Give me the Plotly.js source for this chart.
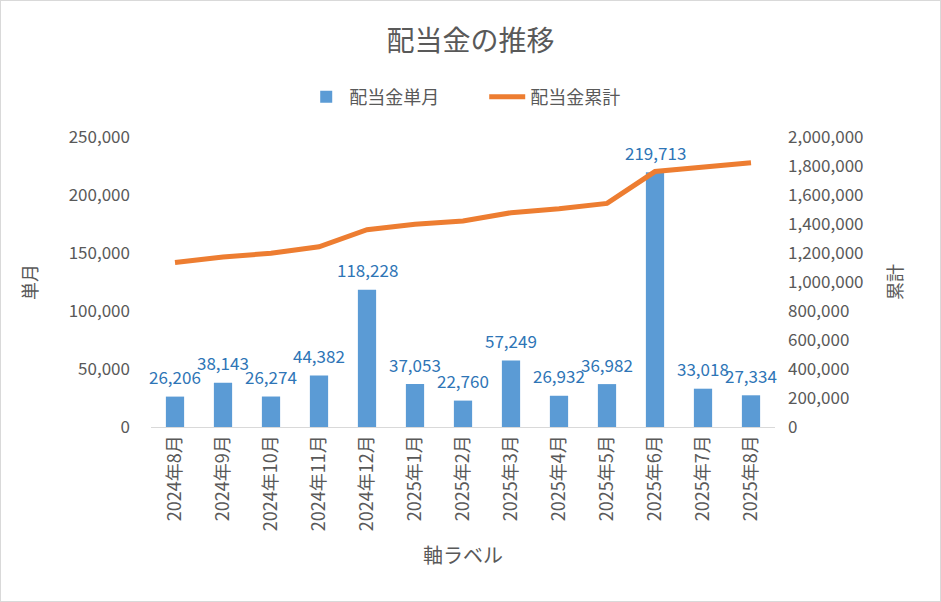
<!DOCTYPE html>
<html>
<head>
<meta charset="utf-8">
<script src="https://cdn.plot.ly/plotly-3.0.1.min.js"></script>
<style>
html,body{margin:0;padding:0;background:#fff;}
#wrap{position:relative;width:941px;height:602px;}
#chart{width:941px;height:602px;}
#frame{position:absolute;left:0;top:0;width:939px;height:600px;border:1px solid #D9D9D9;pointer-events:none;}
</style>
</head>
<body>
<div id="wrap"><div id="chart"></div><div id="frame"></div></div>
<script>
var categories = ["2024年8月","2024年9月","2024年10月","2024年11月","2024年12月","2025年1月","2025年2月","2025年3月","2025年4月","2025年5月","2025年6月","2025年7月","2025年8月"];
var monthly = [26206, 38143, 26274, 44382, 118228, 37053, 22760, 57249, 26932, 36982, 219713, 33018, 27334];
var cumulative = [1134000, 1172143, 1198417, 1242799, 1361027, 1398080, 1420840, 1478089, 1505021, 1542003, 1761716, 1794734, 1822068];
var leftTicks = [0, 50000, 100000, 150000, 200000, 250000];
var rightTicks = [0, 200000, 400000, 600000, 800000, 1000000, 1200000, 1400000, 1600000, 1800000, 2000000];

var FONT = "'Noto Sans CJK JP', 'Noto Sans', sans-serif";
var GRAY = "#595959";

var fmt = function(v){ return v.toLocaleString('en-US'); };

var traces = [
  {
    type: 'bar',
    name: '配当金単月',
    x: categories,
    y: monthly,
    marker: {color: '#5B9BD5'},
    hoverinfo: 'x+y'
  },
  {
    type: 'scatter',
    mode: 'lines',
    name: '配当金累計',
    x: categories,
    y: cumulative,
    yaxis: 'y2',
    line: {color: '#ED7D31', width: 5},
    hoverinfo: 'x+y'
  }
];

var labels = categories.map(function(c, i){
  return {
    x: c, y: monthly[i], xref: 'x', yref: 'y',
    text: fmt(monthly[i]),
    showarrow: false,
    xanchor: 'center', yanchor: 'middle',
    yshift: 20,
    font: {family: FONT, size: 17, color: '#2E75B6'}
  };
});

var layout = {
  width: 941,
  height: 602,
  margin: {l: 151, r: 166, t: 137, b: 175},
  paper_bgcolor: '#fff',
  plot_bgcolor: '#fff',
  font: {family: FONT, color: GRAY, size: 15},
  title: {
    text: '配当金の推移',
    font: {family: FONT, size: 28, color: GRAY},
    x: 0.5, xref: 'container', xanchor: 'center',
    y: 1 - 41/602, yref: 'container', yanchor: 'middle'
  },
  showlegend: true,
  legend: {
    orientation: 'h',
    x: 0.534, xanchor: 'center',
    y: 1.138, yanchor: 'middle',
    font: {family: FONT, size: 18, color: GRAY},
    itemwidth: 36,
    entrywidth: 130
  },
  bargap: 0.62,
  annotations: labels,
  xaxis: {
    type: 'category',
    range: [-0.5, categories.length - 0.5],
    autorange: false,
    tickangle: -90,
    showgrid: false,
    showline: true,
    linecolor: '#D9D9D9',
    linewidth: 1,
    ticks: '',
    tickfont: {family: FONT, size: 18, color: GRAY},
    title: {text: '軸ラベル', font: {family: FONT, size: 20, color: GRAY}, standoff: 18},
    fixedrange: true
  },
  yaxis: {
    range: [0, 250000],
    tickvals: leftTicks,
    ticktext: leftTicks.map(fmt),
    showgrid: false,
    zeroline: false,
    showline: false,
    ticks: '',
    ticklabelstandoff: 20,
    tickfont: {family: FONT, size: 17, color: GRAY},
    title: {text: '単月', font: {family: FONT, size: 18, color: GRAY}, standoff: 26},
    fixedrange: true
  },
  yaxis2: {
    overlaying: 'y',
    side: 'right',
    range: [0, 2000000],
    tickvals: rightTicks,
    ticktext: rightTicks.map(fmt),
    showgrid: false,
    zeroline: false,
    showline: false,
    ticks: '',
    ticklabelstandoff: 12,
    tickfont: {family: FONT, size: 17, color: GRAY},
    title: {text: '累計', font: {family: FONT, size: 18, color: GRAY}, standoff: 26},
    fixedrange: true
  }
};

Plotly.newPlot('chart', traces, layout, {displayModeBar: false, staticPlot: true});
</script>
</body>
</html>
